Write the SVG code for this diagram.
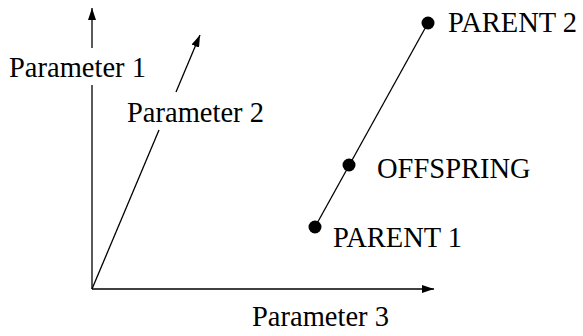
<svg xmlns="http://www.w3.org/2000/svg" width="583" height="336" viewBox="0 0 583 336">
  <style>
    .lbl { font-family: "Liberation Serif", "Times New Roman", serif; font-size: 28.5px; fill: #000; }
    .axis { stroke: #000; stroke-width: 1.3; fill: none; }
    .dot { fill: #000; }
  </style>
  <defs>
    <marker id="arrow" viewBox="0 0 12 8" refX="12" refY="4" markerWidth="12" markerHeight="8" markerUnits="userSpaceOnUse" orient="auto">
      <path d="M0,0 L12,4 L0,8 Z" fill="#000"/>
    </marker>
  </defs>
  <rect width="583" height="336" fill="#fff"/>

  <g id="connectors">
    <!-- Parameter 1 axis, interrupted by its label -->
    <line class="axis" x1="92" y1="289" x2="92" y2="85"/>
    <line class="axis" x1="92" y1="48" x2="92" y2="8" marker-end="url(#arrow)"/>
    <!-- Parameter 2 axis, interrupted by its label -->
    <line class="axis" x1="92" y1="289" x2="159" y2="130"/>
    <line class="axis" x1="176" y1="92" x2="200" y2="35" marker-end="url(#arrow)"/>
    <!-- Parameter 3 axis -->
    <line class="axis" x1="92" y1="289" x2="434" y2="289" marker-end="url(#arrow)"/>
    <!-- crossover segment between parents -->
    <line class="axis" x1="315" y1="227" x2="428" y2="23"/>
  </g>

  <g id="axis-param1"><text class="lbl" x="9" y="77">Parameter 1</text></g>
  <g id="axis-param2"><text class="lbl" x="127" y="122">Parameter 2</text></g>
  <g id="axis-param3"><text class="lbl" x="252" y="326">Parameter 3</text></g>

  <g id="parent2">
    <circle class="dot" cx="428" cy="23" r="6.5"/>
    <text class="lbl" x="448" y="32">PARENT 2</text>
  </g>
  <g id="offspring">
    <circle class="dot" cx="349" cy="165" r="6.5"/>
    <text class="lbl" x="377" y="178">OFFSPRING</text>
  </g>
  <g id="parent1">
    <circle class="dot" cx="315" cy="227" r="6.5"/>
    <text class="lbl" x="333" y="247">PARENT 1</text>
  </g>
</svg>
